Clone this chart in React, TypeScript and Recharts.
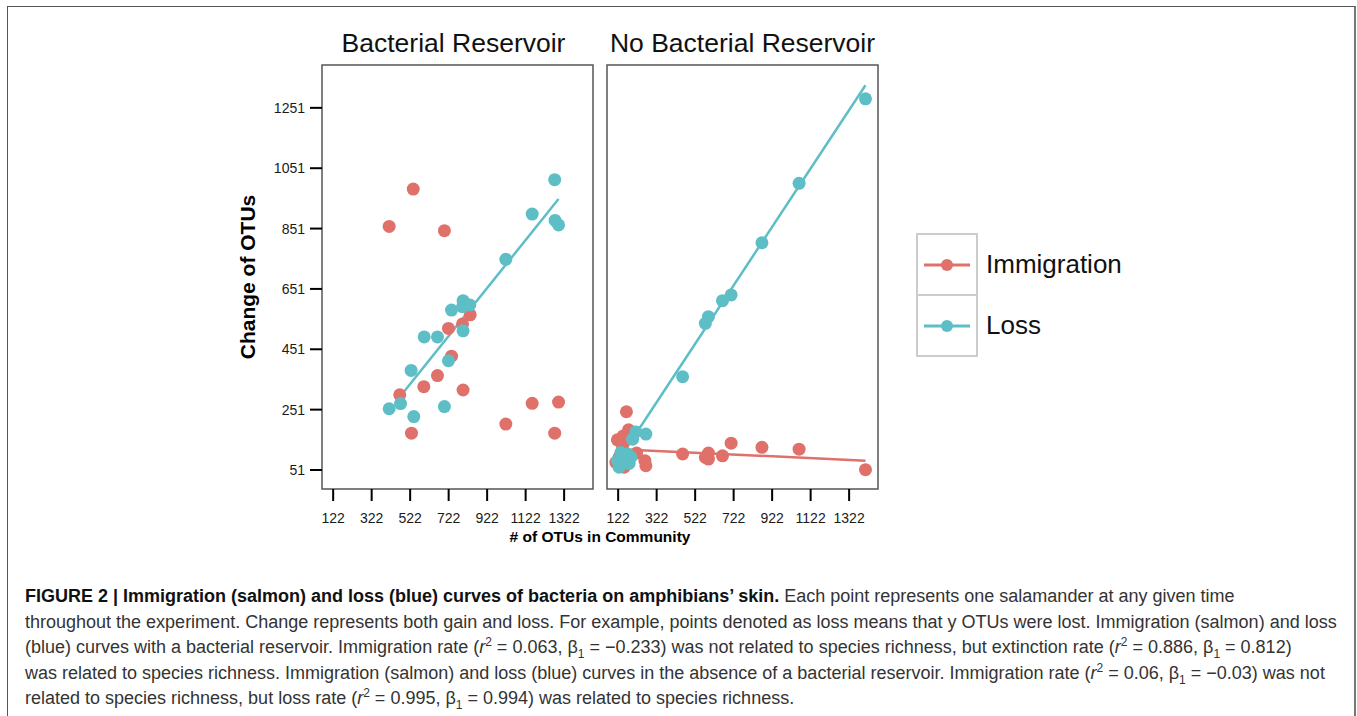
import React from 'react'
import { ScatterChart, Scatter, XAxis, YAxis, ReferenceArea, ReferenceLine } from 'recharts'

// axes shared by both facets
const xTicks = [122, 322, 522, 722, 922, 1122, 1322]
const yTicks = [51, 251, 451, 651, 851, 1051, 1251]
const xDomain = [64, 1472]
const yDomain = [-12, 1393]

// Bacterial Reservoir facet
const resImmX = [413, 538, 700, 721, 794, 834, 737, 664, 593, 468, 797, 529, 1019, 1156, 1293, 1273]
const resImmY = [858, 982, 844, 520, 535, 565, 428, 364, 327, 300, 316, 173, 203, 272, 276, 173]
const resLossX = [1273, 1156, 1275, 1293, 1019, 797, 794, 832, 737, 797, 595, 664, 721, 527, 413, 472, 541, 700]
const resLossY = [1013, 899, 878, 863, 749, 612, 592, 598, 581, 512, 492, 492, 413, 381, 254, 271, 228, 261]
const resLossFitX = [472, 1293]
const resLossFitY = [296, 949]

// No Bacterial Reservoir facet
const noResImmX = [1407, 1062, 869, 709, 664, 591, 575, 591, 457, 266, 261, 218, 165, 176, 118, 148, 144, 127, 110, 153]
const noResImmY = [52, 120, 126, 140, 98, 107, 93, 87, 104, 65, 82, 107, 244, 184, 151, 164, 131, 93, 76, 60]
const noResLossX = [1407, 1062, 869, 709, 664, 591, 575, 457, 266, 214, 197, 127, 153, 179, 144, 118, 171, 188, 136]
const noResLossY = [1281, 1001, 804, 631, 612, 559, 537, 360, 170, 177, 153, 60, 76, 73, 93, 82, 104, 93, 109]
const noResImmFitX = [127, 1407]
const noResImmFitY = [120, 82]
const noResLossFitX = [144, 1407]
const noResLossFitY = [103, 1326]

const seriesNames = ['Immigration', 'Loss']
const seriesColors = ['#E0716A', '#5DBEC6']

const FONT = '"Liberation Sans", Arial, Helvetica, sans-serif'

const toPoints = (xs: number[], ys: number[]) => xs.map((x, i) => ({ x, y: ys[i] }))

const dot = (color: string) => (props: any) => (
  <circle cx={props.cx} cy={props.cy} r={6.5} fill={color} />
)

const PANEL_W = 271
const PANEL_H = 424

function Panel({ imm, loss, fits, showY, left, title }: any) {
  const yAxisW = showY ? 102 : 0
  const ml = showY ? 0 : 10
  const width = ml + yAxisW + PANEL_W + 10
  return (
    <div style={{ position: 'absolute', left, top: 55 }}>
      <ScatterChart
        width={width}
        height={PANEL_H + 50}
        margin={{ top: 10, right: 10, bottom: 0, left: ml }}
      >
        <XAxis
          type="number"
          dataKey="x"
          domain={xDomain}
          ticks={xTicks}
          allowDataOverflow
          axisLine={false}
          tickSize={12}
          tickMargin={12}
          height={40}
          tickLine={{ stroke: '#000', strokeWidth: 2 }}
          tick={{ fontSize: 14, fill: '#1a1a1a', fontFamily: FONT }}
        />
        <YAxis
          type="number"
          dataKey="y"
          domain={yDomain}
          ticks={yTicks}
          allowDataOverflow
          hide={!showY}
          width={yAxisW}
          axisLine={false}
          tickSize={12}
          tickMargin={5}
          tickLine={{ stroke: '#000', strokeWidth: 2 }}
          tick={{ fontSize: 14, fill: '#1a1a1a', fontFamily: FONT }}
          label={{
            value: 'Change of OTUs',
            angle: -90,
            position: 'insideLeft',
            offset: 28,
            style: { textAnchor: 'middle', fontSize: 21, fontWeight: 'bold', fill: '#000', fontFamily: FONT },
          }}
        />
        <ReferenceArea
          x1={xDomain[0]}
          x2={xDomain[1]}
          y1={yDomain[0]}
          y2={yDomain[1]}
          fill="#fff"
          fillOpacity={0}
          stroke="#555"
          strokeWidth={1.5}
          ifOverflow="visible"
        />
        {fits.map((f: any, i: number) => (
          <ReferenceLine
            key={i}
            segment={[{ x: f.x[0], y: f.y[0] }, { x: f.x[1], y: f.y[1] }]}
            stroke={f.color}
            strokeWidth={2.5}
            ifOverflow="visible"
          />
        ))}
        <Scatter name={seriesNames[0]} data={imm} shape={dot(seriesColors[0])} isAnimationActive={false} />
        <Scatter name={seriesNames[1]} data={loss} shape={dot(seriesColors[1])} isAnimationActive={false} />
      </ScatterChart>
      <div
        style={{
          position: 'absolute',
          top: -27,
          left: ml + yAxisW,
          width: PANEL_W,
          textAlign: 'center',
          fontFamily: FONT,
          fontSize: 26.5,
          color: '#111',
          whiteSpace: 'nowrap',
          marginLeft: title.dx,
        }}
      >
        {title.text}
      </div>
    </div>
  )
}

function Legend() {
  return (
    <>
      <div style={{ position: 'absolute', left: 916, top: 233, width: 58, border: '2px solid #ccc' }}>
        {seriesColors.map((c, i) => (
          <div
            key={i}
            style={{ height: 59, borderTop: i ? '2px solid #ccc' : 'none', display: 'flex', alignItems: 'center', justifyContent: 'center' }}
          >
            <svg width={50} height={14}>
              <line x1={2} x2={48} y1={7} y2={7} stroke={c} strokeWidth={3} />
              <circle cx={25} cy={7} r={6} fill={c} />
            </svg>
          </div>
        ))}
      </div>
      {seriesNames.map((n, i) => (
        <div
          key={n}
          style={{ position: 'absolute', left: 986, top: 248 + i * 61, fontFamily: FONT, fontSize: 26, color: '#111', lineHeight: '32px' }}
        >
          {n}
        </div>
      ))}
    </>
  )
}

const R2 = ({ r, b }: { r: string; b: string }) => (
  <>
    (<i>r</i>
    <sup style={{ fontSize: 12, lineHeight: 0 }}>2</sup> = {r}, β<sub style={{ fontSize: 12, lineHeight: 0 }}>1</sub> = {b})
  </>
)

export default function App() {
  const lineStyle: React.CSSProperties = { whiteSpace: 'nowrap', height: 25.5, lineHeight: '25.5px' }
  return (
    <div style={{ position: 'absolute', left: 0, top: 0, width: 1357, height: 716, background: '#fff', overflow: 'hidden' }}>
      <div
        style={{
          position: 'absolute',
          left: 7,
          top: 6,
          width: 1346,
          height: 730,
          borderTop: '1.5px solid #555',
          borderLeft: '1.5px solid #555',
          borderRight: '2px solid #777',
        }}
      />
      <Panel
        left={220}
        showY
        imm={toPoints(resImmX, resImmY)}
        loss={toPoints(resLossX, resLossY)}
        fits={[{ x: resLossFitX, y: resLossFitY, color: seriesColors[1] }]}
        title={{ text: 'Bacterial Reservoir', dx: -4 }}
      />
      <Panel
        left={597}
        showY={false}
        imm={toPoints(noResImmX, noResImmY)}
        loss={toPoints(noResLossX, noResLossY)}
        fits={[
          { x: noResImmFitX, y: noResImmFitY, color: seriesColors[0] },
          { x: noResLossFitX, y: noResLossFitY, color: seriesColors[1] },
        ]}
        title={{ text: 'No Bacterial Reservoir', dx: 0 }}
      />
      <div
        style={{ position: 'absolute', left: 400, top: 528, width: 400, textAlign: 'center', fontFamily: FONT, fontSize: 15.5, fontWeight: 'bold', color: '#000' }}
      >
        # of OTUs in Community
      </div>
      <Legend />
      <div style={{ position: 'absolute', left: 25, top: 584, fontFamily: FONT, fontSize: 18, color: '#333' }}>
        <div style={lineStyle}>
          <b style={{ color: '#111' }}>FIGURE 2 | Immigration (salmon) and loss (blue) curves of bacteria on amphibians’ skin.</b> Each point
          represents one salamander at any given time
        </div>
        <div style={lineStyle}>
          throughout the experiment. Change represents both gain and loss. For example, points denoted as loss means that y OTUs were lost.
          Immigration (salmon) and loss
        </div>
        <div style={lineStyle}>
          (blue) curves with a bacterial reservoir. Immigration rate <R2 r="0.063" b="−0.233" /> was not related to species richness, but
          extinction rate <R2 r="0.886" b="0.812" />
        </div>
        <div style={lineStyle}>
          was related to species richness. Immigration (salmon) and loss (blue) curves in the absence of a bacterial reservoir. Immigration rate{' '}
          <R2 r="0.06" b="−0.03" /> was not
        </div>
        <div style={lineStyle}>
          related to species richness, but loss rate <R2 r="0.995" b="0.994" /> was related to species richness.
        </div>
      </div>
    </div>
  )
}
